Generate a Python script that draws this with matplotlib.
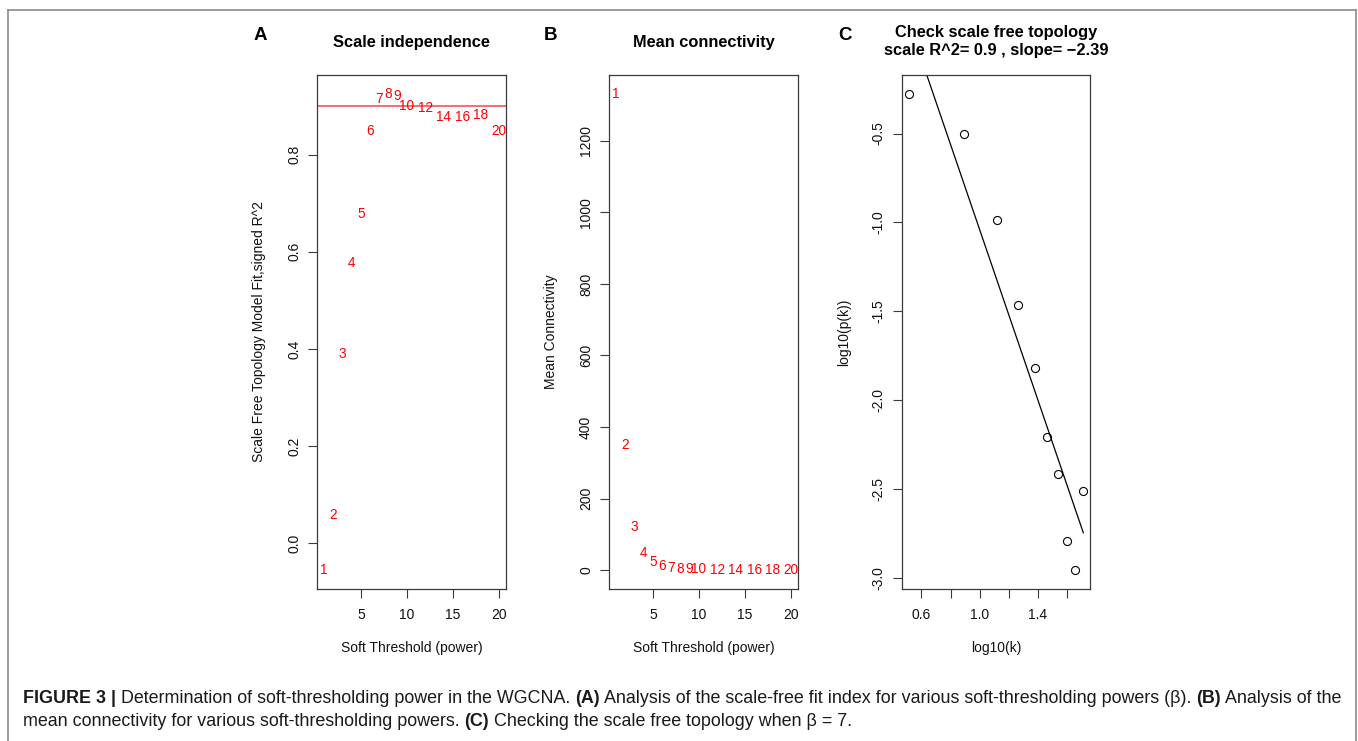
import numpy as np
import matplotlib.pyplot as plt
from matplotlib.lines import Line2D

plt.rcParams['font.family'] = ['Liberation Sans', 'DejaVu Sans']

# soft-threshold powers tested
powers = [1, 2, 3, 4, 5, 6, 7, 8, 9, 10, 12, 14, 16, 18, 20]
# panel A: signed R^2 of scale-free fit
sft_r2 = [-0.055, 0.059, 0.39, 0.577, 0.679, 0.848, 0.915, 0.925, 0.921,
          0.900, 0.896, 0.877, 0.877, 0.882, 0.848]
r2_cut = 0.9
# panel B: mean connectivity
mean_k = [1331, 350, 119, 48, 22, 10.3, 6.5, 4.2, 2.5, 1.6, 0.8, 0.5, 0.4,
          0.3, 0.2]
# panel C: log10(k) vs log10(p(k)) at power 7
log_k = [0.512, 0.892, 1.119, 1.267, 1.381, 1.464, 1.539, 1.713, 1.599, 1.656]
log_pk = [-0.278, -0.503, -0.984, -1.466, -1.816, -2.206, -2.414, -2.508,
          -2.792, -2.953]
fit_slope = -2.39
fit_intercept = 1.35
fit_r2 = 0.9

W, H = 1358, 741
fig = plt.figure(figsize=(W / 100, H / 100), dpi=100)
AXC = '#3a3a3a'


def fx(x):
    return x / W


def fy(y):
    return 1 - y / H


def make_axes(left, right, top=75, bottom=589):
    return fig.add_axes([fx(left), fy(bottom), (right - left) / W, (bottom - top) / H])


def r_lim(v):
    lo, hi = min(v), max(v)
    d = (hi - lo) * 0.04
    return lo - d, hi + d


def style(ax, xt, xtl, yt, ytl, xlabel, ylabel):
    for s in ax.spines.values():
        s.set_color(AXC)
        s.set_linewidth(0.9)
    ax.set_xticks(xt)
    ax.set_xticklabels(xtl)
    ax.set_yticks(yt)
    ax.set_yticklabels(ytl, rotation=90, va='center')
    ax.tick_params(direction='out', length=6.5, width=0.8, color=AXC,
                   labelsize=10, labelcolor='#111111')
    ax.tick_params(axis='x', pad=7)
    ax.tick_params(axis='y', pad=5)
    ax.text(0.5, -0.1154, xlabel, transform=ax.transAxes, ha='center',
            va='center', fontsize=10, color='#111111')
    ax.text(-0.307, 0.5, ylabel, transform=ax.transAxes, ha='center',
            va='center', rotation=90, fontsize=10, color='#111111')


# ---- A: scale independence
axA = make_axes(317, 506)
axA.set_xlim(r_lim(powers))
axA.set_ylim(r_lim(sft_r2))
for p, v in zip(powers, sft_r2):
    axA.text(p, v, str(p), color='red', fontsize=9.8, ha='center', va='center')
axA.axhline(r2_cut, color='#f04848', lw=1.1)
style(axA, [5, 10, 15, 20], ['5', '10', '15', '20'],
      [0, 0.2, 0.4, 0.6, 0.8], ['0.0', '0.2', '0.4', '0.6', '0.8'],
      'Soft Threshold (power)', 'Scale Free Topology Model Fit,signed R^2')

# ---- B: mean connectivity
axB = make_axes(609, 798)
axB.set_xlim(r_lim(powers))
axB.set_ylim(r_lim(mean_k))
for p, v in zip(powers, mean_k):
    axB.text(p, v, str(p), color='red', fontsize=9.8, ha='center', va='center')
style(axB, [5, 10, 15, 20], ['5', '10', '15', '20'],
      [0, 200, 400, 600, 800, 1000, 1200],
      ['0', '200', '400', '600', '800', '1000', '1200'],
      'Soft Threshold (power)', 'Mean Connectivity')

# ---- C: scale free topology check
axC = make_axes(901.7, 1090.3)
axC.set_xlim(r_lim(log_k))
axC.set_ylim(r_lim(log_pk))
axC.plot(log_k, log_pk, 'o', mfc='none', mec='black', ms=5.8, mew=0.8)
xf = np.array([min(log_k), max(log_k)])
axC.plot(xf, fit_intercept + fit_slope * xf, color='black', lw=0.9)
style(axC, [0.6, 0.8, 1.0, 1.2, 1.4, 1.6], ['0.6', '', '1.0', '', '1.4', ''],
      [-3.0, -2.5, -2.0, -1.5, -1.0, -0.5],
      ['-3.0', '-2.5', '-2.0', '-1.5', '-1.0', '-0.5'],
      'log10(k)', 'log10(p(k))')

# titles and panel letters
fig.text(fx(411.5), fy(42.3), 'Scale independence', ha='center', va='center',
         fontsize=11.8, fontweight='bold')
fig.text(fx(703.5), fy(42.3), 'Mean connectivity', ha='center', va='center',
         fontsize=11.8, fontweight='bold')
fig.text(fx(996), fy(32.3), 'Check scale free topology', ha='center',
         va='center', fontsize=11.8, fontweight='bold')
fig.text(fx(996), fy(51), 'scale R^2= %s , slope= \u2212%s' % (fit_r2, abs(fit_slope)),
         ha='center', va='center', fontsize=11.8, fontweight='bold')
for lx, letter in [(260.7, 'A'), (550.7, 'B'), (845, 'C')]:
    fig.text(fx(lx), fy(35), letter, ha='center', va='center', fontsize=13.5,
             fontweight='bold')

# outer frame (open at the bottom)
fc = '#8a8a8a'
fig.add_artist(Line2D([fx(7.7), fx(7.7)], [0, fy(9.5)], color=fc, lw=1.2))
fig.add_artist(Line2D([fx(1355.5), fx(1355.5)], [0, fy(9.5)], color=fc, lw=1.2))
fig.add_artist(Line2D([fx(7.7), fx(1355.5)], [fy(9.5), fy(9.5)], color=fc, lw=1.2))

# caption with mixed bold runs
cap1 = [("FIGURE 3 |", "bold"),
        (" Determination of soft-thresholding power in the WGCNA. ", "normal"),
        ("(A)", "bold"),
        (" Analysis of the scale-free fit index for various soft-thresholding powers (\u03b2). ", "normal"),
        ("(B)", "bold"),
        (" Analysis of the", "normal")]
cap2 = [("mean connectivity for various soft-thresholding powers. ", "normal"),
        ("(C)", "bold"),
        (" Checking the scale free topology when \u03b2 = 7.", "normal")]

renderer = fig.canvas.get_renderer()


def adv(s, size, weight):
    t1 = fig.text(0, 0, '|' + s + '|', fontsize=size, fontweight=weight)
    t2 = fig.text(0, 0, '||', fontsize=size, fontweight=weight)
    w = t1.get_window_extent(renderer).width - t2.get_window_extent(renderer).width
    t1.remove()
    t2.remove()
    return w


line_w = sum(adv(s, 10, w) for s, w in cap1)
cap_size = 10 * (1340 - 22.7) / line_w


def put_line(x, y, runs):
    for s, w in runs:
        fig.text(fx(x), fy(y), s, fontsize=cap_size, fontweight=w,
                 va='baseline', ha='left', color='#1a1a1a')
        x += adv(s, cap_size, w)


put_line(22.7, 703, cap1)
put_line(22.7, 726.5, cap2)

fig.savefig('out.png', dpi=100)
